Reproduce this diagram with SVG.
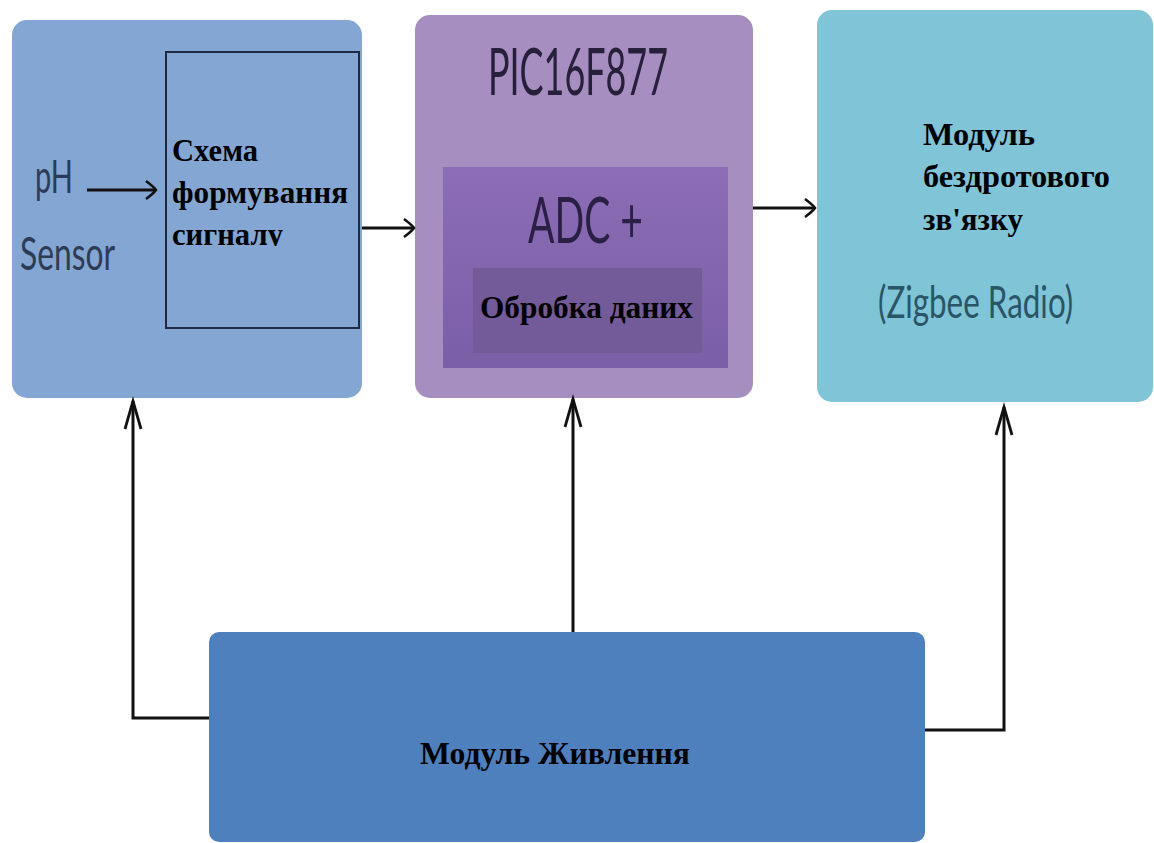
<svg xmlns="http://www.w3.org/2000/svg" width="1154" height="843" viewBox="0 0 1154 843">
<style>
.lbl{font-family:"Liberation Serif","Times New Roman",serif;font-weight:bold;font-size:31px;fill:#000}
.cal{font-family:Lato,"Liberation Sans",sans-serif}
.wire{fill:none;stroke:#111;stroke-width:3;stroke-linejoin:miter}
</style>
<defs>
<marker id="up" markerUnits="userSpaceOnUse" viewBox="-32 -12 36 24" refX="0" refY="0" markerWidth="36" markerHeight="24" orient="auto" overflow="visible">
<path d="M-28,-8 L0,0 L-28,8" fill="none" stroke="#111" stroke-width="2.8"/>
</marker>
<marker id="rt" markerUnits="userSpaceOnUse" viewBox="-14 -12 18 24" refX="0" refY="0" markerWidth="18" markerHeight="24" orient="auto" overflow="visible">
<path d="M-10,-9 Q-2,-3 0,0 Q-2,3 -10,9" fill="none" stroke="#111" stroke-width="2.5"/>
</marker>
<linearGradient id="adc" x1="0" y1="0" x2="0" y2="1">
<stop offset="0" stop-color="#8c6db6"/>
<stop offset="1" stop-color="#7a5ea6"/>
</linearGradient>
<clipPath id="clipSig"><rect x="160" y="40" width="210" height="206"/></clipPath>
</defs>

<rect width="1154" height="843" fill="#fff"/>

<g id="sensor">
<rect x="12" y="20" width="350" height="378" rx="15" fill="#84a6d3"/>
<text class="cal" x="35" y="193" font-size="46" fill="#2e3b55" textLength="38" lengthAdjust="spacingAndGlyphs">pH</text>
<text class="cal" x="20" y="270" font-size="46" fill="#2e3b55" textLength="95" lengthAdjust="spacingAndGlyphs">Sensor</text>
</g>

<g id="signal-conditioning">
<rect x="166" y="52" width="193" height="276" fill="#84a6d3" stroke="#1e2a44" stroke-width="2"/>
<g clip-path="url(#clipSig)">
<text class="lbl" x="172" y="161" textLength="86" lengthAdjust="spacingAndGlyphs">Схема</text>
<text class="lbl" x="172" y="203" textLength="176" lengthAdjust="spacingAndGlyphs">формування</text>
<text class="lbl" x="172" y="245" textLength="111" lengthAdjust="spacingAndGlyphs">сигналу</text>
</g>
</g>

<g id="pic">
<rect x="415" y="15" width="338" height="383" rx="15" fill="#a68ec0"/>
<text class="cal" x="488" y="95" font-size="66" fill="#26203a" textLength="180" lengthAdjust="spacingAndGlyphs">PIC16F877</text>
<rect x="443" y="167" width="285" height="201" fill="url(#adc)"/>
<text class="cal" x="528" y="243" font-size="64" fill="#2a1f45" textLength="115" lengthAdjust="spacingAndGlyphs">ADC +</text>
<rect x="473" y="268" width="229" height="85" fill="#735a98"/>
<text class="lbl" x="480" y="318" textLength="213" lengthAdjust="spacingAndGlyphs">Обробка даних</text>
</g>

<g id="radio">
<rect x="817" y="10" width="336" height="392" rx="15" fill="#7fc4d7"/>
<text class="lbl" x="923" y="145" textLength="112" lengthAdjust="spacingAndGlyphs">Модуль</text>
<text class="lbl" x="923" y="187" textLength="187" lengthAdjust="spacingAndGlyphs">бездротового</text>
<text class="lbl" x="923" y="230" textLength="100" lengthAdjust="spacingAndGlyphs">зв'язку</text>
<text class="cal" transform="translate(878 318) scale(0.72 1)" x="0" y="0" font-size="45" fill="#2a5566" textLength="271" lengthAdjust="spacingAndGlyphs">(Zigbee Radio)</text>
</g>

<g id="power">
<rect x="209" y="632" width="716" height="210" rx="10" fill="#4f80be"/>
<text class="lbl" x="420" y="764" textLength="270" lengthAdjust="spacingAndGlyphs">Модуль Живлення</text>
</g>

<g id="connectors">
<path class="wire" d="M87,190 H156" stroke-width="4" marker-end="url(#rt)"/>
<path class="wire" d="M362,228 H414" stroke-width="3.5" marker-end="url(#rt)"/>
<path class="wire" d="M753,208 H815" stroke-width="3.5" marker-end="url(#rt)"/>
<path class="wire" d="M209,718 H133 V401" marker-end="url(#up)"/>
<path class="wire" d="M573,632 V399" marker-end="url(#up)"/>
<path class="wire" d="M925,730 H1004 V407" marker-end="url(#up)"/>
</g>
</svg>
